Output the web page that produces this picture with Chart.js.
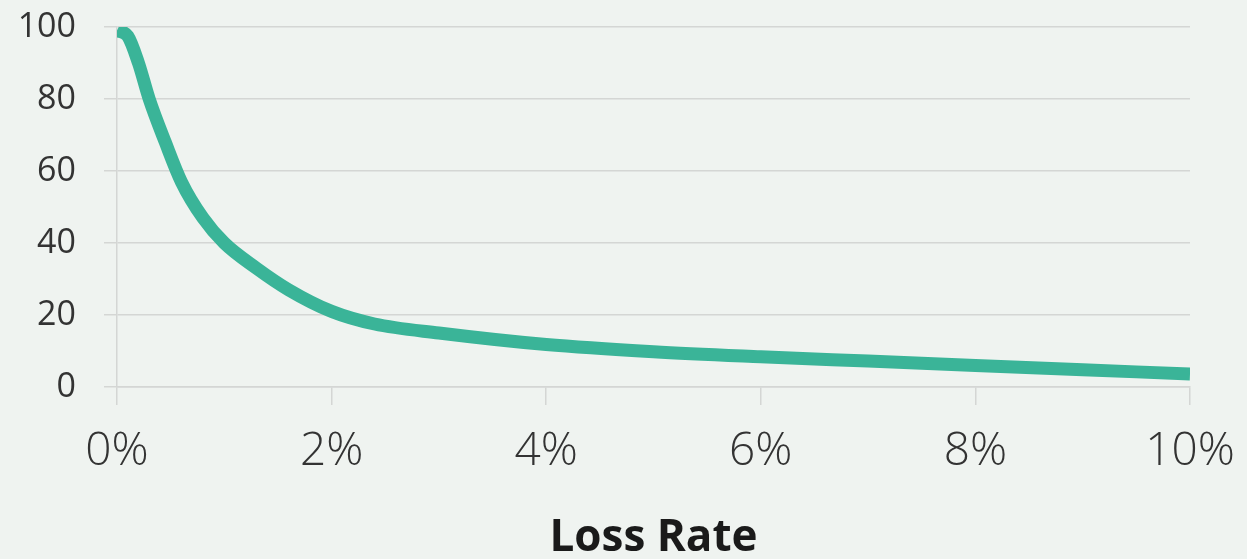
<!DOCTYPE html>
<html>
<head>
<meta charset="utf-8">
<script src="https://cdn.jsdelivr.net/npm/chart.js@4"></script>
<style>
  html, body { margin: 0; padding: 0; background: #eff3f0; }
  #wrap { width: 1247px; height: 559px; }
</style>
</head>
<body>
<div id="wrap"><canvas id="lossChart" width="1247" height="559"></canvas></div>
<script>
// loss rate (%) vs value
const lossRates = [0, 0.1, 0.2, 0.3, 0.45, 0.6, 0.8, 1.0, 1.3, 1.6, 2.0, 2.4, 3, 4, 5, 6, 7, 8, 9, 10];
const values = [99, 97.5, 90, 80, 68, 57, 47, 40, 33, 27, 21, 17.5, 15, 11.8, 9.8, 8.4, 7.2, 6, 4.8, 3.6];
const xTicks = [0, 2, 4, 6, 8, 10];
const yTicks = [0, 20, 40, 60, 80, 100];

let points = lossRates.map((x, i) => ({ x: x, y: values[i] }));

let ctx = document.getElementById('lossChart').getContext('2d');
new Chart(ctx, {
    type: 'line',
    data: {
        datasets: [{
            data: points,
            borderColor: 'rgb(58, 180, 152)',
            borderWidth: 13,
            borderCapStyle: 'butt',
            pointRadius: 0,
            cubicInterpolationMode: 'monotone',
            fill: false
        }]
    },
    options: {
        responsive: false,
        animation: false,
        layout: { padding: { top: 27, right: 57, left: 0, bottom: 0 } },
        plugins: { legend: { display: false }, tooltip: { enabled: false } },
        scales: {
            x: {
                type: 'linear',
                min: 0,
                max: 10,
                afterBuildTicks: s => { s.ticks = xTicks.map(v => ({ value: v })); },
                afterFit: s => { s.height = 172; s.paddingLeft = 0; s.paddingRight = 0; },
                ticks: {
                    callback: v => v + '%',
                    color: '#333',
                    padding: 19,
                    maxRotation: 0,
                    font: { family: 'Open Sans', size: 46, weight: '300' }
                },
                grid: { drawOnChartArea: false, drawTicks: true, tickLength: 18, color: '#d4d6d4', lineWidth: 1.5 },
                border: { display: true, color: '#d4d6d4', width: 1.5 },
                title: {
                    display: true,
                    text: 'Loss Rate',
                    color: '#1a1a1a',
                    padding: { top: 18, bottom: 0 },
                    font: { family: 'Open Sans', size: 44, weight: 'bold', lineHeight: 0.95 }
                }
            },
            y: {
                min: 0,
                max: 100,
                afterBuildTicks: s => { s.ticks = yTicks.map(v => ({ value: v })); },
                afterFit: s => { s.width = 117; s.paddingTop = 0; s.paddingBottom = 0; },
                ticks: {
                    color: '#333',
                    padding: 28,
                    font: { family: 'Open Sans', size: 34 }
                },
                grid: { drawTicks: true, tickLength: 13, color: '#d4d6d4', lineWidth: 1.5 },
                border: { display: true, color: '#d4d6d4', width: 1.5 }
            }
        }
    }
});
</script>
</body>
</html>
